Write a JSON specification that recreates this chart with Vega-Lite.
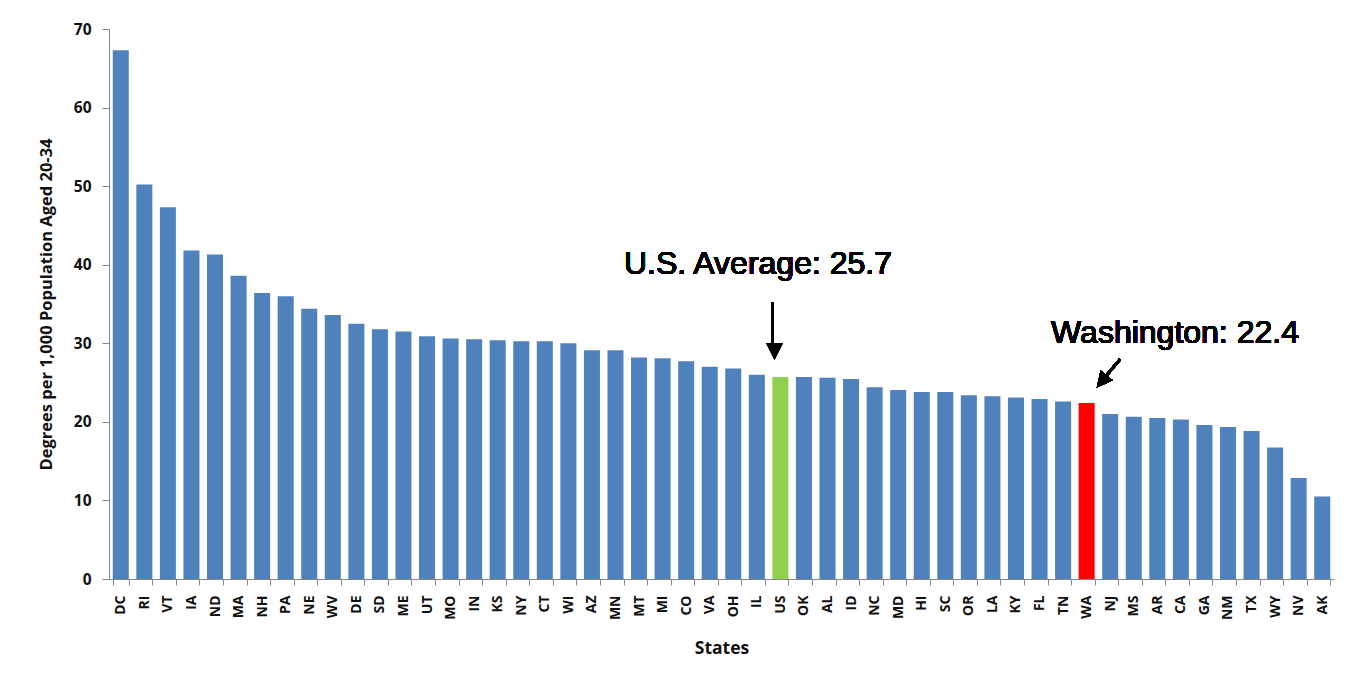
{
  "$schema": "https://vega.github.io/schema/vega-lite/v6.json",
  "width": 1225,
  "height": 550,
  "autosize": {"type": "none"},
  "padding": {"left": 109, "top": 29, "right": 18, "bottom": 96},
  "background": "white",
  "config": {"view": {"stroke": null}, "font": "Open Sans"},
  "data": {"values": [
    {"state": "DC", "value": 67.3}, {"state": "RI", "value": 50.2}, {"state": "VT", "value": 47.3},
    {"state": "IA", "value": 41.8}, {"state": "ND", "value": 41.3}, {"state": "MA", "value": 38.6},
    {"state": "NH", "value": 36.4}, {"state": "PA", "value": 36.0}, {"state": "NE", "value": 34.4},
    {"state": "WV", "value": 33.6}, {"state": "DE", "value": 32.5}, {"state": "SD", "value": 31.8},
    {"state": "ME", "value": 31.5}, {"state": "UT", "value": 30.9}, {"state": "MO", "value": 30.6},
    {"state": "IN", "value": 30.5}, {"state": "KS", "value": 30.4}, {"state": "NY", "value": 30.25},
    {"state": "CT", "value": 30.25}, {"state": "WI", "value": 30.0}, {"state": "AZ", "value": 29.1},
    {"state": "MN", "value": 29.1}, {"state": "MT", "value": 28.2}, {"state": "MI", "value": 28.1},
    {"state": "CO", "value": 27.7}, {"state": "VA", "value": 27.0}, {"state": "OH", "value": 26.8},
    {"state": "IL", "value": 26.0}, {"state": "US", "value": 25.7}, {"state": "OK", "value": 25.7},
    {"state": "AL", "value": 25.6}, {"state": "ID", "value": 25.45}, {"state": "NC", "value": 24.4},
    {"state": "MD", "value": 24.05}, {"state": "HI", "value": 23.8}, {"state": "SC", "value": 23.8},
    {"state": "OR", "value": 23.4}, {"state": "LA", "value": 23.25}, {"state": "KY", "value": 23.1},
    {"state": "FL", "value": 22.9}, {"state": "TN", "value": 22.6}, {"state": "WA", "value": 22.4},
    {"state": "NJ", "value": 21.0}, {"state": "MS", "value": 20.65}, {"state": "AR", "value": 20.5},
    {"state": "CA", "value": 20.3}, {"state": "GA", "value": 19.6}, {"state": "NM", "value": 19.35},
    {"state": "TX", "value": 18.85}, {"state": "WY", "value": 16.75}, {"state": "NV", "value": 12.85},
    {"state": "AK", "value": 10.5}
  ]},
  "layer": [
    {
      "mark": {"type": "bar"},
      "encoding": {
        "x": {
          "field": "state", "type": "nominal", "sort": null,
          "scale": {"paddingInner": 0.32, "paddingOuter": 0.16},
          "axis": {
            "title": "States", "labelAngle": -90, "tickBand": "extent",
            "labelFont": "Open Sans", "labelFontWeight": "bold", "labelFontSize": 14, "labelColor": "#111111",
            "tickColor": "#868686", "tickSize": 6, "domainColor": "#868686", "labelPadding": 10,
            "titleFont": "Open Sans", "titleFontSize": 17.5, "titleFontWeight": "bold", "titleColor": "#111111", "titlePadding": 20
          }
        },
        "y": {
          "field": "value", "type": "quantitative",
          "scale": {"domain": [0, 70], "nice": false},
          "axis": {
            "title": "Degrees per 1,000 Population Aged 20-34",
            "values": [0, 10, 20, 30, 40, 50, 60, 70], "grid": false,
            "labelFont": "Open Sans", "labelFontWeight": "bold", "labelFontSize": 15.5, "labelColor": "#111111",
            "tickColor": "#868686", "tickSize": 7, "domainColor": "#868686", "labelPadding": 11,
            "titleFont": "Open Sans", "titleFontSize": 16.5, "titleFontWeight": "bold", "titleColor": "#111111", "titlePadding": 19
          }
        },
        "color": {
          "condition": [
            {"test": "datum.state === 'US'", "value": "#92D050"},
            {"test": "datum.state === 'WA'", "value": "#FF0000"}
          ],
          "value": "#4F81BD"
        }
      }
    },
    {
      "mark": {"type": "rule", "color": "#000000", "strokeWidth": 2.5},
      "encoding": {
        "x": {"datum": 28.17, "type": "quantitative", "scale": {"domain": [0, 52], "nice": false, "zero": false}, "axis": null},
        "y": {"datum": 35.17, "type": "quantitative"},
        "y2": {"datum": 29.5}
      }
    },
    {
      "mark": {"type": "point", "shape": "M-1,-1L1,-1L0,1Z", "filled": true, "fill": "#000000", "strokeWidth": 0, "opacity": 1, "size": 256, "angle": 0},
      "encoding": {
        "x": {"datum": 28.25, "type": "quantitative", "scale": {"domain": [0, 52], "nice": false, "zero": false}, "axis": null},
        "y": {"datum": 29.0, "type": "quantitative"}
      }
    },
    {
      "mark": {"type": "rule", "color": "#000000", "strokeWidth": 2.5},
      "encoding": {
        "x": {"datum": 42.92, "type": "quantitative", "scale": {"domain": [0, 52], "nice": false, "zero": false}, "axis": null},
        "y": {"datum": 27.96, "type": "quantitative"},
        "x2": {"datum": 42.2},
        "y2": {"datum": 25.4}
      }
    },
    {
      "mark": {"type": "point", "shape": "M-1,-1L1,-1L0,1Z", "filled": true, "fill": "#000000", "strokeWidth": 0, "opacity": 1, "size": 240, "angle": 39},
      "encoding": {
        "x": {"datum": 42.14, "type": "quantitative", "scale": {"domain": [0, 52], "nice": false, "zero": false}, "axis": null},
        "y": {"datum": 25.14, "type": "quantitative"}
      }
    },
    {
      "mark": {"type": "text", "font": "Liberation Sans", "fontSize": 32, "fontWeight": "normal", "fill": "#000000", "strokeWidth": 0, "strokeOpacity": 0, "align": "center", "baseline": "alphabetic"},
      "encoding": {
        "x": {"datum": 27.55, "type": "quantitative", "scale": {"domain": [0, 52], "nice": false, "zero": false}, "axis": null},
        "y": {"datum": 38.8, "type": "quantitative"},
        "text": {"value": "U.S. Average: 25.7"}
      }
    },
    {
      "mark": {"type": "text", "font": "Liberation Sans", "fontSize": 32, "fontWeight": "normal", "fill": "#000000", "strokeWidth": 0, "strokeOpacity": 0, "align": "center", "baseline": "alphabetic"},
      "encoding": {
        "x": {"datum": 45.25, "type": "quantitative", "scale": {"domain": [0, 52], "nice": false, "zero": false}, "axis": null},
        "y": {"datum": 30.07, "type": "quantitative"},
        "text": {"value": "Washington: 22.4"}
      }
    }
  ],
  "resolve": {"scale": {"x": "independent"}}
}
